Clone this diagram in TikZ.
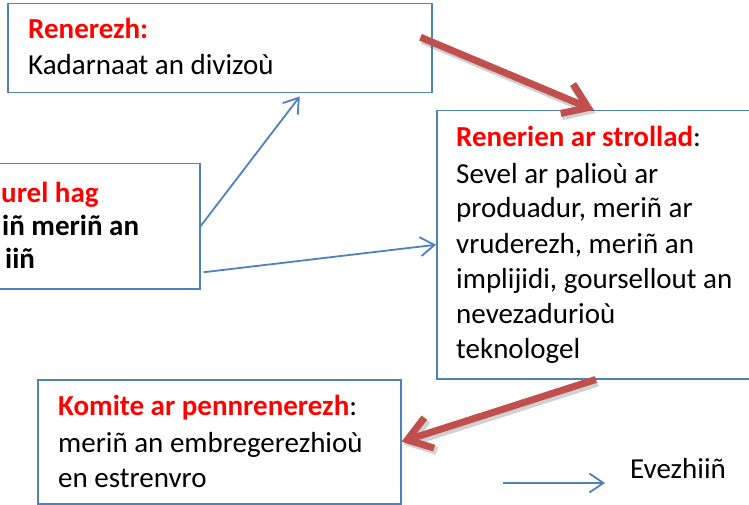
\documentclass[tikz,border=0pt]{standalone}
\usepackage{fontspec}
\setmainfont{Carlito}
\usetikzlibrary{arrows.meta,calc}
\definecolor{boxblue}{HTML}{4F81BD}
\definecolor{arrred}{HTML}{C0504D}
\definecolor{txtred}{HTML}{FF0000}
\begin{document}
\begin{tikzpicture}[x=1pt,y=-1pt,
  box/.style={draw=boxblue,line width=1.5pt,fill=white,inner sep=0pt,anchor=north west},
  txt/.style={anchor=base west,inner sep=0pt,font=\fontsize{29}{35}\selectfont},
  barrow/.style={draw=boxblue,line width=1.8pt,-{Straight Barb[length=14pt,width=19pt]}},
  rarrow/.style={draw=arrred,line width=7pt,-{Straight Barb[length=23pt,width=32pt]}},
  rshadow/.style={draw=black,opacity=0.18,line width=8pt,-{Straight Barb[length=23pt,width=32pt]}}]
\clip (0,0) rectangle (749,505);
\fill[white] (0,0) rectangle (749,505);
% boxes
\node[box,minimum width=424pt,minimum height=89pt] (top) at (7,3) {};
\node[box,minimum width=330pt,minimum height=268pt] (right) at (436,110) {};
\node[box,minimum width=219pt,minimum height=125pt] (left) at (-20,163) {};
\node[box,minimum width=363pt,minimum height=124pt] (bottom) at (37,379) {};
% top text
\node[txt] (t1) at (28,39) {\textcolor{txtred}{\bfseries Renerezh:}};
\node[txt] (t2) at (28,75) {Kadarnaat an divizoù};
% right text
\node[txt] (r1) at (456,147) {\textbf{\textcolor{txtred}{Renerien ar strollad}}:};
\node[txt] (r2) at (456,183) {Sevel ar palioù ar};
\node[txt] (r3) at (456,217) {produadur, meriñ ar};
\node[txt] (r4) at (456,253) {vruderezh, meriñ an};
\node[txt] (r5) at (456,288) {implijidi, goursellout an};
\node[txt] (r6) at (456,323) {nevezadurioù};
\node[txt] (r7) at (456,358) {teknologel};
% left text
\node[txt] (l1) at (1,203) {\textbf{\textcolor{txtred}{urel hag}}};
\node[txt] (l2) at (2,235) {\textbf{iñ meriñ an}};
\node[txt] (l3) at (5,268) {\textbf{iiñ}};
% bottom text
\node[txt] (b1) at (58,415) {\textbf{\textcolor{txtred}{Komite ar pennrenerezh}}:};
\node[txt] (b2) at (58,452) {meriñ an embregerezhioù};
\node[txt] (b3) at (58,487) {en estrenvro};
% blue arrows
\draw[barrow] (left.east) -- ([xshift=80pt,yshift=-3pt]top.south);
\draw[barrow] ([xshift=3pt,yshift=-46pt]left.east) -- (right.west);
% red arrows with shadow
\begin{scope}[transform canvas={xshift=2pt,yshift=-3pt}]
\draw[rshadow] ([xshift=-12pt,yshift=11pt]top.east) -- ([xshift=-8pt]right.north);
\draw[rshadow] ([xshift=-6pt]right.south) -- (bottom.east);
\end{scope}
\draw[rarrow] ([xshift=-12pt,yshift=11pt]top.east) -- ([xshift=-8pt]right.north);
\draw[rarrow] ([xshift=-6pt]right.south) -- (bottom.east);
% legend
\coordinate (la) at (503,483);
\coordinate (lb) at (605,483);
\draw[barrow] (la) -- (lb);
\node[txt] (leg) at (630,478) {Evezhiiñ};
\end{tikzpicture}
\end{document}
